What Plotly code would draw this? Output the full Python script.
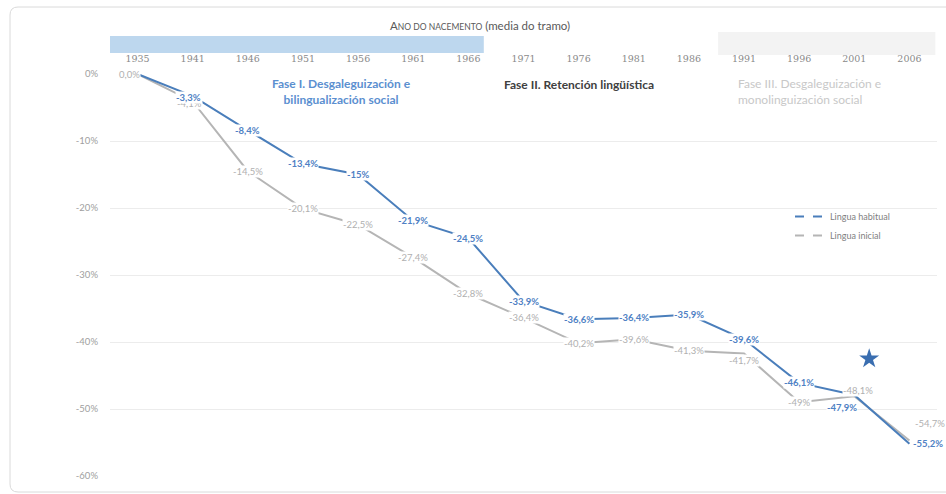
import plotly.graph_objects as go

# ---------------- data ----------------
years = ["1935", "1941", "1946", "1951", "1956", "1961", "1966", "1971",
         "1976", "1981", "1986", "1991", "1996", "2001", "2006"]
habitual = [0.0, -3.3, -8.4, -13.4, -15.0, -21.9, -24.5, -33.9,
            -36.6, -36.4, -35.9, -39.6, -46.1, -47.9, -55.2]
inicial = [0.0, -4.1, -14.5, -20.1, -22.5, -27.4, -32.8, -36.4,
           -40.2, -39.6, -41.3, -41.7, -49.0, -48.1, -54.7]
habitual_labels = ["", "-3,3%", "-8,4%", "-13,4%", "-15%", "-21,9%", "-24,5%", "-33,9%",
                   "-36,6%", "-36,4%", "-35,9%", "-39,6%", "-46,1%", "-47,9%", "-55,2%"]
inicial_labels = ["0,0%", "-4,1%", "-14,5%", "-20,1%", "-22,5%", "-27,4%", "-32,8%", "-36,4%",
                  "-40,2%", "-39,6%", "-41,3%", "-41,7%", "-49%", "-48,1%", "-54,7%"]
y_ticks = [0, -10, -20, -30, -40, -50, -60]
y_tick_labels = ["0%", "-10%", "-20%", "-30%", "-40%", "-50%", "-60%"]
star_point = (13.27, -42.5)

BLUE = "#4a7ebb"
BLUE_TXT = "#4f81c4"
GRAY = "#b5b5b5"
GRAY_TXT = "#b0b0b0"
FONT = "Lato"

x_idx = list(range(len(years)))

fig = go.Figure()

fig.add_trace(go.Scatter(x=x_idx, y=inicial, mode="lines",
                         line=dict(color=GRAY, width=2), showlegend=False, hoverinfo="skip"))
fig.add_trace(go.Scatter(x=x_idx, y=habitual, mode="lines",
                         line=dict(color=BLUE, width=2), showlegend=False, hoverinfo="skip"))
# legend entries (dashed symbols as in the original legend)
fig.add_trace(go.Scatter(x=[None], y=[None], mode="lines", name="Lingua habitual",
                         line=dict(color=BLUE, width=2, dash="dash")))
fig.add_trace(go.Scatter(x=[None], y=[None], mode="lines", name="Lingua inicial",
                         line=dict(color=GRAY, width=2, dash="dash")))
# star marker
fig.add_trace(go.Scatter(x=[star_point[0]], y=[star_point[1]], mode="markers",
                         marker=dict(symbol="star", size=15, color="#3a6eb0"),
                         showlegend=False, hoverinfo="skip"))

annotations = []
# label pixel offsets (dx right, dy up)
gray_off = {0: (-8, 0), 1: (-3, -2), 11: (0, -7), 13: (4, 6), 14: (21, 17)}
blue_off = {1: (-4, -1), 13: (-12, -13), 14: (19, 0)}

for i, (v, t) in enumerate(zip(inicial, inicial_labels)):
    if not t:
        continue
    dx, dy = gray_off.get(i, (0, 0))
    annotations.append(dict(x=i, y=v, xref="x", yref="y", text=t, showarrow=False,
                            xshift=dx, yshift=dy, bgcolor="white", borderpad=0,
                            font=dict(family=FONT, size=9.5, color=GRAY_TXT)))
for i, (v, t) in enumerate(zip(habitual, habitual_labels)):
    if not t:
        continue
    dx, dy = blue_off.get(i, (0, 0))
    annotations.append(dict(x=i, y=v, xref="x", yref="y", text="<b>" + t + "</b>", showarrow=False,
                            xshift=dx, yshift=dy, bgcolor="white", borderpad=0,
                            font=dict(family=FONT, size=9.5, color=BLUE_TXT)))

# ---------- geometry helpers ----------
L, R, T, B = 110, 9, 74, 18
W, H = 946 - L - R, 494 - T - B


def px_x(px):
    return (px - L) / W


def px_y(py):
    return (494 - B - py) / H


# axis title (small caps style)
annotations.append(dict(x=px_x(480), y=px_y(25), xref="paper", yref="paper", showarrow=False,
                        xanchor="center", yanchor="middle",
                        text="A<span style='font-size:8.5px'>NO DO NACEMENTO</span> (media do tramo)",
                        font=dict(family=FONT, size=11.5, color="#595959")))
# phase labels
annotations.append(dict(x=3.7, y=-2.6, xref="x", yref="y", showarrow=False,
                        text="<b>Fase I. Desgaleguización e<br>bilingualización social</b>",
                        font=dict(family=FONT, size=12, color="#5b8fd0")))
annotations.append(dict(x=8.0, y=-1.6, xref="x", yref="y", showarrow=False,
                        text="<b>Fase II. Retención lingüística</b>",
                        font=dict(family=FONT, size=12, color="#404040")))
annotations.append(dict(x=10.85, y=-2.6, xref="x", yref="y", showarrow=False, xanchor="left",
                        align="left",
                        text="Fase III. Desgaleguización e<br>monolinguización social",
                        font=dict(family=FONT, size=12, color="#c8c8c8")))

x0, xr = px_x(10), px_x(960)
yt, yb = px_y(7), px_y(492)
rx, ry = 8 / W, 8 / H
border = (f"M {xr},{yt} L {x0 + rx},{yt} Q {x0},{yt} {x0},{yt - ry} "
          f"L {x0},{yb + ry} Q {x0},{yb} {x0 + rx},{yb} L {xr},{yb}")

shapes = [
    dict(type="rect", xref="x", yref="paper", x0=-0.56, x1=6.28, y0=px_y(53), y1=px_y(36),
         fillcolor="#bdd7ee", line=dict(width=0), layer="below"),
    dict(type="rect", xref="x", yref="paper", x0=10.53, x1=14.47, y0=px_y(55), y1=px_y(32),
         fillcolor="#f3f3f3", line=dict(width=0), layer="below"),
    dict(type="path", xref="paper", yref="paper", path=border,
         line=dict(color="#dadada", width=1)),
]

fig.update_layout(
    width=946, height=494,
    margin=dict(l=L, r=R, t=T, b=B),
    paper_bgcolor="white", plot_bgcolor="white",
    font=dict(family=FONT, color="#7f7f7f"),
    showlegend=True,
    legend=dict(x=px_x(790), y=px_y(202), xanchor="left", yanchor="top",
                bgcolor="rgba(0,0,0,0)", font=dict(family=FONT, size=9, color="#7f7f7f"),
                itemwidth=30, tracegroupgap=0),
    annotations=annotations,
    shapes=shapes,
    xaxis=dict(range=[-0.5, 14.5], side="top", tickmode="array", tickvals=x_idx, ticktext=years,
               showgrid=False, zeroline=False, showline=False, ticks="", ticklabelstandoff=9,
               tickfont=dict(family="DejaVu Serif", size=9.5, color="#8a8a8a")),
    yaxis=dict(range=[-60, 0], tickmode="array", tickvals=y_ticks, ticktext=y_tick_labels,
               showgrid=True, gridcolor="#ececec", gridwidth=1, zeroline=False, showline=False,
               ticks="", ticklabelstandoff=11,
               tickfont=dict(family=FONT, size=9.5, color="#a0a0a0")),
)

fig.write_html("out.html", config={"displayModeBar": False},
               post_script="document.body.style.margin='0';document.body.style.overflow='hidden';")
